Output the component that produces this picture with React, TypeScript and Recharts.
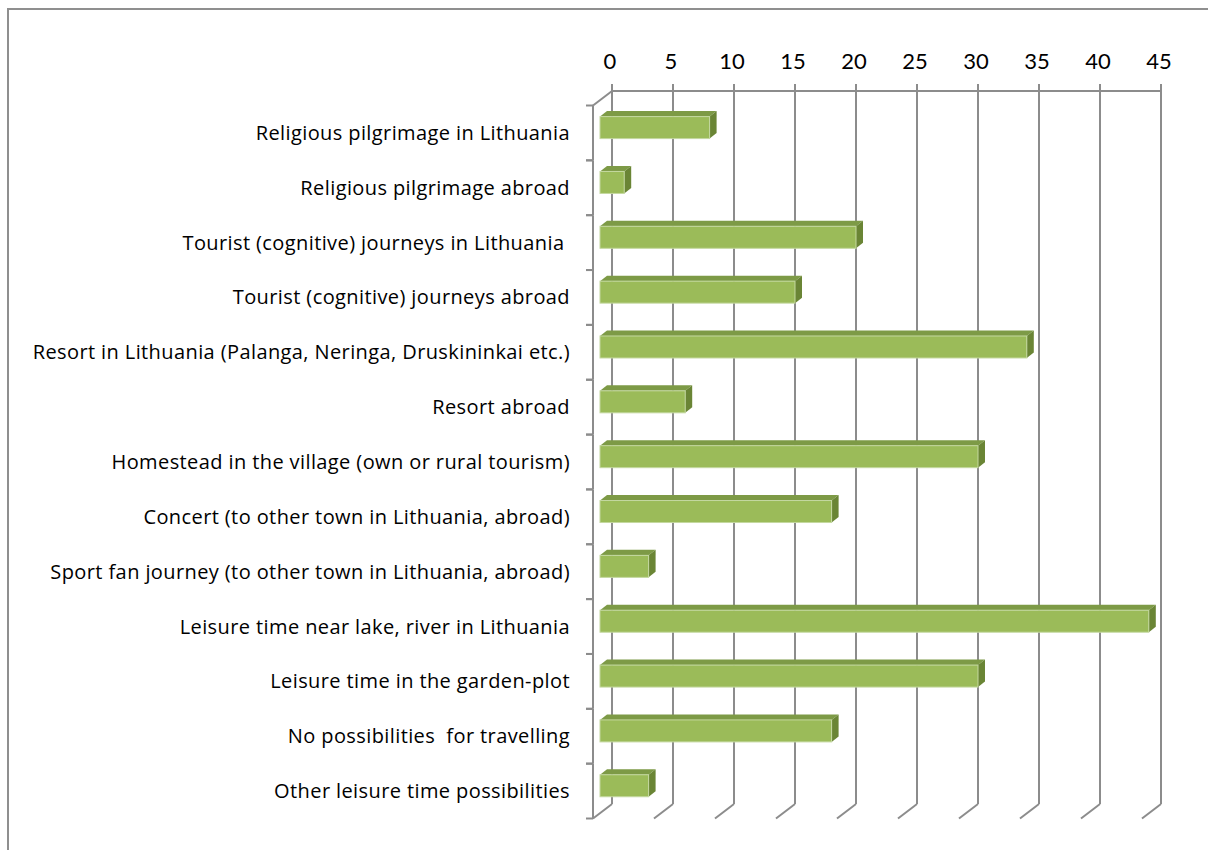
import React from 'react';
import { BarChart, Bar, XAxis, YAxis, CartesianGrid } from 'recharts';

const categories = [
  'Religious pilgrimage in Lithuania',
  'Religious pilgrimage abroad',
  'Tourist (cognitive) journeys in Lithuania ',
  'Tourist (cognitive) journeys abroad',
  'Resort in Lithuania (Palanga, Neringa, Druskininkai etc.)',
  'Resort abroad',
  'Homestead in the village (own or rural tourism)',
  'Concert (to other town in Lithuania, abroad)',
  'Sport fan journey (to other town in Lithuania, abroad)',
  'Leisure time near lake, river in Lithuania',
  'Leisure time in the garden-plot',
  'No possibilities  for travelling',
  'Other leisure time possibilities',
];

const values = [8, 1, 20, 15, 34, 6, 30, 18, 3, 44, 30, 18, 3];

const xTicks = [0, 5, 10, 15, 20, 25, 30, 35, 40, 45];

const data = categories.map((name, i) => ({ name, value: values[i] }));

const W = 1208;
const H = 850;
const PLOT_TOP = 91;
const PLOT_BOTTOM = 804;
const PLOT_LEFT = 612;
const DEPTH_X = 19;
const DEPTH_Y = 14.5;
const BAND = (PLOT_BOTTOM - PLOT_TOP) / categories.length;
const GRID = '#8c8c8c';
const TICK_FONT = 'Lato, "Open Sans", sans-serif';
const LABEL_FONT = '"Open Sans", Lato, sans-serif';

const XTick = (props: any) => {
  const { x, payload } = props;
  return (
    <g>
      <text x={x - 2} y={69} textAnchor="middle" fontSize={22} fontFamily={TICK_FONT} fill="#000">
        {payload.value}
      </text>
      <line x1={x} y1={PLOT_BOTTOM} x2={x - DEPTH_X} y2={PLOT_BOTTOM + DEPTH_Y} stroke={GRID} strokeWidth={2} />
      {payload.value === 0 ? (
        <line x1={x} y1={PLOT_TOP} x2={x - DEPTH_X} y2={PLOT_TOP + DEPTH_Y} stroke={GRID} strokeWidth={2} />
      ) : null}
    </g>
  );
};

const YTick = (props: any) => {
  const { y, payload } = props;
  const fc = y + DEPTH_Y;
  const ax = PLOT_LEFT - DEPTH_X;
  const t = fc - BAND / 2;
  const b = fc + BAND / 2;
  return (
    <g>
      <line x1={ax} y1={t} x2={ax} y2={b} stroke={GRID} strokeWidth={2} />
      <line x1={ax - 7} y1={t} x2={ax} y2={t} stroke={GRID} strokeWidth={2} />
      <line x1={ax - 7} y1={b} x2={ax} y2={b} stroke={GRID} strokeWidth={2} />
      <text
        x={570}
        y={fc}
        dy="0.35em"
        textAnchor="end"
        fontSize={20}
        letterSpacing={0.4}
        fontFamily={LABEL_FONT}
        fill="#000"
        style={{ whiteSpace: 'pre' }}
      >
        {payload.value}
      </text>
    </g>
  );
};

const Bar3D = (props: any) => {
  const { x, y, width, height } = props;
  const c = y + height / 2;
  const top = c + 9.6 - 11;
  const bottom = c + 9.6 + 11;
  const left = x - 12;
  const right = x + width;
  const dx = 7;
  const dy = 5.5;
  return (
    <g>
      <polygon
        points={`${left},${top} ${left + dx},${top - dy} ${right + dx},${top - dy} ${right},${top}`}
        fill="#7d9a46"
      />
      <polygon
        points={`${right},${top} ${right + dx},${top - dy} ${right + dx},${bottom - dy} ${right},${bottom}`}
        fill="#6a8535"
      />
      <rect x={left} y={top} width={right - left} height={bottom - top} fill="#9bbb59" stroke="#c4d8a0" strokeWidth={1} />
    </g>
  );
};

export default function App() {
  return (
    <div style={{ position: 'absolute', left: 0, top: 0, width: W, height: H, overflow: 'hidden', background: '#fff' }}>
      <div
        style={{
          position: 'absolute',
          left: 7,
          top: 8,
          width: 1400,
          height: 1000,
          borderLeft: '2px solid #8f8f8f',
          borderTop: '2px solid #8f8f8f',
        }}
      />
      <div style={{ position: 'absolute', left: 0, top: 0 }}>
        <BarChart
          layout="vertical"
          width={W}
          height={H}
          data={data}
          margin={{ top: PLOT_TOP - 30, right: W - 1161, bottom: H - PLOT_BOTTOM, left: 12 }}
          barSize={22}
        >
          <CartesianGrid horizontal={false} vertical stroke={GRID} strokeWidth={2} />
          <XAxis
            type="number"
            orientation="top"
            domain={[0, 45]}
            ticks={xTicks}
            interval={0}
            height={30}
            axisLine={{ stroke: GRID, strokeWidth: 2 }}
            tickLine={{ stroke: GRID, strokeWidth: 2 }}
            tickSize={7}
            tick={<XTick />}
          />
          <YAxis
            type="category"
            dataKey="name"
            width={600}
            interval={0}
            axisLine={false}
            tickLine={false}
            tick={<YTick />}
          />
          <Bar dataKey="value" shape={Bar3D} isAnimationActive={false} />
        </BarChart>
      </div>
    </div>
  );
}
